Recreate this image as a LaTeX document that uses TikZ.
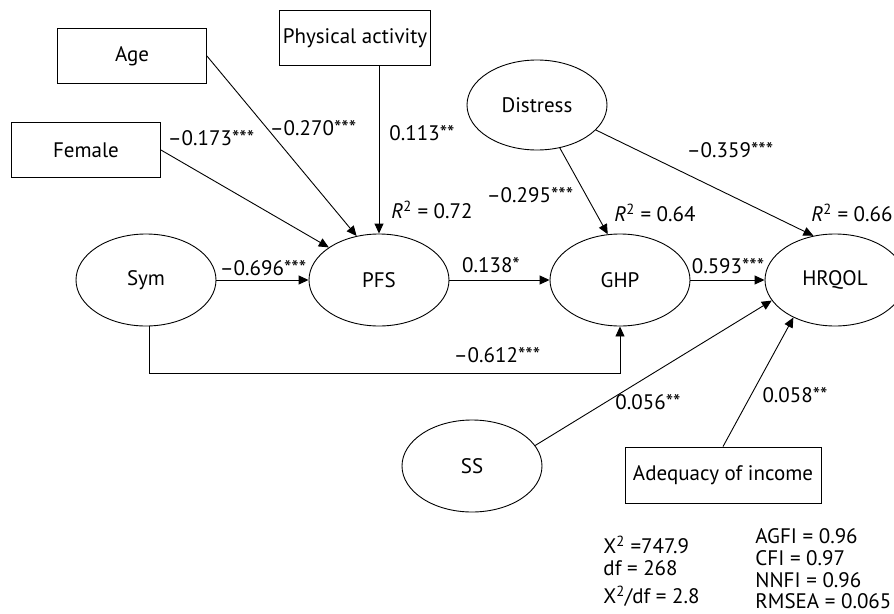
\documentclass[tikz,border=0pt]{standalone}
\usepackage{fontspec}
\setmainfont{PT Sans}
\usetikzlibrary{shapes.geometric,arrows.meta}

\begin{document}
\begin{tikzpicture}[x=1pt,y=-1pt,line width=0.9pt,
    font=\fontsize{21}{23}\selectfont,
    latent/.style={draw,ellipse,minimum width=140pt,minimum height=92pt,inner sep=0pt},
    observed/.style={draw,rectangle,minimum height=55pt,inner sep=3pt},
    path/.style={-{Triangle[length=10pt,width=9pt]}},
    coef/.style={inner sep=0pt},
    fit/.style={inner sep=0pt,anchor=west}]
    \useasboundingbox (0,0) rectangle (894,613);

    \node[observed,minimum width=149pt] (age) at (132,56) {Age};
    \node[observed,minimum width=150pt] (phys) at (355,38) {Physical activity};
    \node[observed,minimum width=149pt] (female) at (86,150) {Female};
    \node[latent] (sym) at (146,280) {Sym};
    \node[latent] (pfs) at (379,280) {PFS};
    \node[latent] (ghp) at (620,280) {GHP};
    \node[latent] (hrqol) at (835,280) {HRQOL};
    \node[latent,minimum height=90pt] (distress) at (537,105) {Distress};
    \node[latent] (ss) at (472,466) {SS};
    \node[observed,minimum width=196pt,minimum height=56pt] (income) at (723,475) {Adequacy of income};

    \draw[path] (age.east) -- (pfs.117);
    \draw[path] (female.east) -- (pfs.147);
    \draw[path] (pfs.north |- phys.south) -- (pfs.north);
    \draw[path] (sym) -- (pfs);
    \draw[path] (pfs) -- (ghp);
    \draw[path] (ghp) -- (hrqol);
    \draw[path] (sym.-86) -- ++(0,47) -| (ghp.south);
    \draw[path] (distress.-62) -- (ghp.105);
    \draw[path] (distress.-23) -- (hrqol.116);
    \draw[path] (ss.18) -- (hrqol.198);
    \draw[path] (income.north) -- (hrqol.222);

    \node[coef] (b-age) at (313,128) {–0.270***};
    \node[coef] (b-phys) at (422,133) {0.113**};
    \node[coef] (b-female) at (211,138) {–0.173***};
    \node[coef] (r-pfs) at (432,210) {\textit{R}\textsuperscript{2} = 0.72};
    \node[coef] (b-sym) at (263,268) {–0.696***};
    \node[coef] (b-pfs) at (491,265) {0.138*};
    \node[coef] (b-ghp) at (728,266) {0.593***};
    \node[coef] (b-dis-ghp) at (530,195) {–0.295***};
    \node[coef] (r-ghp) at (655,213) {\textit{R}\textsuperscript{2} = 0.64};
    \node[coef] (b-dis-hrqol) at (730,150) {–0.359***};
    \node[coef,anchor=east] (r-hrqol) at (893,213) {\textit{R}\textsuperscript{2} = 0.66};
    \node[coef] (b-sym-ghp) at (497,355) {–0.612***};
    \node[coef] (b-ss) at (648,402) {0.056**};
    \node[coef] (b-income) at (795,395) {0.058**};

    \node[fit] (chi) at (603,545) {X\textsuperscript{2} =747.9};
    \node[fit] (df) at (603,568) {df = 268};
    \node[fit] (ratio) at (603,596) {X\textsuperscript{2}/df = 2.8};
    \node[fit] (agfi) at (755,536) {AGFI = 0.96};
    \node[fit] (cfi) at (755,558) {CFI = 0.97};
    \node[fit] (nnfi) at (755,580) {NNFI = 0.96};
    \node[fit] (rmsea) at (755,601) {RMSEA = 0.065};
\end{tikzpicture}
\end{document}
